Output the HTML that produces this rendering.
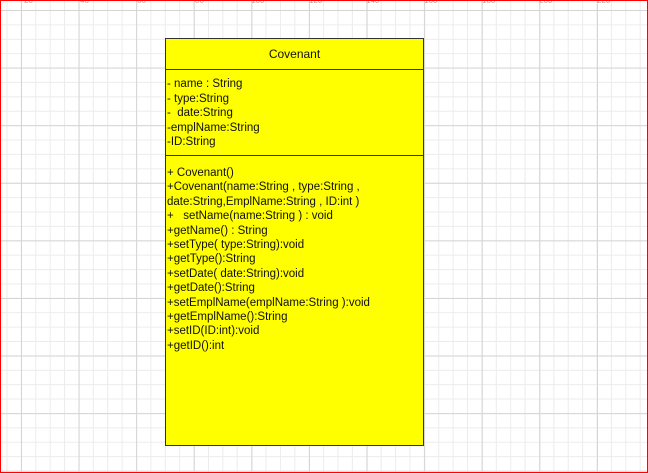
<!DOCTYPE html>
<html><head><meta charset="utf-8"><style>
html,body{margin:0;padding:0}
body{width:648px;height:473px;position:relative;overflow:hidden;background:#fff;font-family:"Liberation Sans",sans-serif}
.grid{position:absolute;left:0;top:0;width:648px;height:473px;
background-image:
linear-gradient(to right,#d4d4d4 1px,transparent 1px),
linear-gradient(to bottom,#d4d4d4 1px,transparent 1px),
linear-gradient(to right,#ececec 1px,transparent 1px),
linear-gradient(to bottom,#ececec 1px,transparent 1px);
background-size:57.6px 57.6px,57.6px 57.6px,14.4px 14.4px,14.4px 14.4px;
background-position:21px 10px,21px 10px,6.5px 10px,6.5px 10px}
.frame{position:absolute;left:0;top:0;width:646px;height:471px;border:1px solid #f00}
.box{position:absolute;left:165px;top:38px;width:257px;height:406px;background:#ff0;border:1px solid #333}
.hd{height:30px;border-bottom:1px solid #333;text-align:center;font-size:12px;line-height:30px;color:#111}
.attr{height:86px;border-bottom:1px solid #333;padding:7px 0 0 1px;box-sizing:border-box}
.l{font-size:11.5px;line-height:14.5px;color:#111;white-space:pre}
.meth{padding:10px 0 0 1px}
.meth .l{line-height:14.4px}
.rl{position:absolute;top:-4px;font-size:8px;color:#aaa}
</style></head><body>
<div class="grid"></div>
<span class="rl" style="left:24px">20</span><span class="rl" style="left:80px">40</span><span class="rl" style="left:137px">60</span><span class="rl" style="left:195px">80</span><span class="rl" style="left:251px">100</span><span class="rl" style="left:309px">120</span><span class="rl" style="left:366px">140</span><span class="rl" style="left:424px">160</span><span class="rl" style="left:482px">180</span><span class="rl" style="left:539px">200</span><span class="rl" style="left:597px">220</span>
<div class="box">
<div class="hd">Covenant</div>
<div class="attr">
<div class="l">- name : String</div>
<div class="l">- type:String</div>
<div class="l">-  date:String</div>
<div class="l">-emplName:String</div>
<div class="l">-ID:String</div>
</div>
<div class="meth">
<div class="l">+ Covenant()</div>
<div class="l">+Covenant(name:String , type:String ,</div>
<div class="l">date:String,EmplName:String , ID:int )</div>
<div class="l">+   setName(name:String ) : void</div>
<div class="l">+getName() : String</div>
<div class="l">+setType( type:String):void</div>
<div class="l">+getType():String</div>
<div class="l">+setDate( date:String):void</div>
<div class="l">+getDate():String</div>
<div class="l">+setEmplName(emplName:String ):void</div>
<div class="l">+getEmplName():String</div>
<div class="l">+setID(ID:int):void</div>
<div class="l">+getID():int</div>
</div>
</div>
<div class="frame"></div>
</body></html>
